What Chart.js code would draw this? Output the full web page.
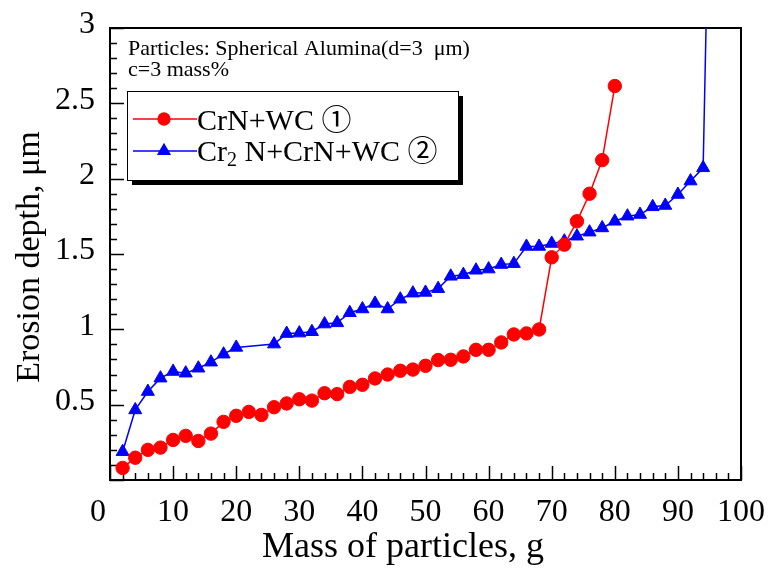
<!DOCTYPE html>
<html><head><meta charset="utf-8">
<script src="https://cdn.jsdelivr.net/npm/chart.js@4/dist/chart.umd.min.js"></script>
<style>html,body{margin:0;padding:0;background:#fff}#wrap{width:770px;height:569px;position:relative}</style>
</head><body><div id="wrap"><canvas id="c" width="770" height="569"></canvas></div>
<script>
// ---- data ----
const massCrN = [2,4,6,8,10,12,14,16,18,20,22,24,26,28,30,32,34,36,38,40,42,44,46,48,50,52,54,56,58,60,62,64,66,68,70,72,74,76,78,80];
const depthCrN = [0.08,0.148,0.20,0.215,0.266,0.293,0.259,0.308,0.386,0.426,0.452,0.432,0.483,0.508,0.536,0.527,0.576,0.57,0.618,0.632,0.674,0.70,0.725,0.733,0.758,0.796,0.798,0.82,0.864,0.864,0.913,0.966,0.973,0.999,1.478,1.562,1.717,1.90,2.123,2.615];
const massCr2N = [2,4,6,8,10,12,14,16,18,20,26,28,30,32,34,36,38,40,42,44,46,48,50,52,54,56,58,60,62,64,66,68,70,72,74,76,78,80,82,84,86,88,90,92,94,95];
const depthCr2N = [0.188,0.465,0.587,0.676,0.72,0.709,0.742,0.782,0.835,0.88,0.902,0.972,0.975,0.984,1.035,1.043,1.11,1.135,1.172,1.135,1.20,1.24,1.245,1.27,1.352,1.363,1.392,1.40,1.43,1.436,1.55,1.55,1.57,1.585,1.618,1.645,1.673,1.717,1.751,1.762,1.813,1.822,1.895,1.984,2.072,4.1];
const xTickValues = [0,10,20,30,40,50,60,70,80,90,100];
const yTickValues = [0.5,1,1.5,2,2.5,3];
const seriesNames = ['CrN+WC ①', 'Cr2N+CrN+WC ②'];
const xTitle = 'Mass of particles, g';
const yTitle = 'Erosion depth, μm';
const noteLines = ['Particles: Spherical Alumina(d=3  μm)', 'c=3 mass%'];

const SERIF = '"Liberation Serif", "Times New Roman", "Noto Sans CJK JP", serif';

function toPoints(xs, ys){ return xs.map((x,i)=>({x:x, y:ys[i]})); }

const framePlugin = {
  id: 'frame',
  beforeDatasetsDraw(chart){
    const {ctx, chartArea:a, scales:{x, y}} = chart;
    ctx.save();
    ctx.strokeStyle = '#000';
    ctx.lineWidth = 1.5;
    ctx.beginPath();
    for (let v = 0; v <= 100.001; v += 2) {
      const px = Math.round(x.getPixelForValue(v)) + 0.5;
      const len = (Math.round(v) % 10 === 0) ? 14 : 7;
      ctx.moveTo(px, a.bottom); ctx.lineTo(px, a.bottom - len);
    }
    for (let i = 0; i <= 30; i++) {
      const v = i / 10;
      const py = Math.round(y.getPixelForValue(v)) + 0.5;
      const len = (i % 5 === 0) ? 14 : 7;
      ctx.moveTo(a.left, py); ctx.lineTo(a.left + len, py);
    }
    ctx.stroke();
    ctx.lineWidth = 2;
    ctx.strokeRect(a.left, a.top, a.right - a.left, a.bottom - a.top);
    ctx.restore();
  },
  afterDraw(chart){
    const {ctx, chartArea:a} = chart;
    ctx.save();
    ctx.fillStyle = '#000';
    // axis titles
    ctx.font = '36px ' + SERIF;
    ctx.textAlign = 'center';
    ctx.textBaseline = 'alphabetic';
    ctx.fillText(xTitle, 403, 557);
    ctx.save();
    ctx.font = '34px ' + SERIF;
    ctx.translate(30, (a.top + a.bottom) / 2 + 3);
    ctx.rotate(-Math.PI / 2);
    ctx.textBaseline = 'middle';
    ctx.fillText(yTitle, 0, 0);
    ctx.restore();
    // note text
    ctx.font = '22px ' + SERIF;
    ctx.textAlign = 'left';
    ctx.textBaseline = 'alphabetic';
    ctx.fillText(noteLines[0], 128, 55);
    ctx.fillText(noteLines[1], 128, 76);
    // legend box with shadow
    const bx = 127, by = 91, bw = 331, bh = 89;
    ctx.fillRect(bx + 5, by + 5, bw, bh);
    ctx.fillStyle = '#fff';
    ctx.fillRect(bx, by, bw, bh);
    ctx.strokeStyle = '#000';
    ctx.lineWidth = 1;
    ctx.strokeRect(bx + 0.5, by + 0.5, bw, bh);
    const rows = [119, 151];
    chart.data.datasets.forEach((ds, i) => {
      const yy = rows[i];
      ctx.strokeStyle = ds.borderColor;
      ctx.lineWidth = 1.5;
      ctx.beginPath(); ctx.moveTo(133, yy); ctx.lineTo(197, yy); ctx.stroke();
      ctx.fillStyle = ds.pointBackgroundColor;
      ctx.strokeStyle = ds.pointBorderColor;
      Chart.helpers.drawPoint(ctx, {pointStyle: ds.pointStyle, radius: ds.pointRadius - 0.8, rotation: 0, borderWidth: 1}, 164, yy);
    });
    ctx.fillStyle = '#000';
    ctx.font = '30px ' + SERIF;
    ctx.fillText(seriesNames[0], 197, 129.5);
    // second name with subscript 2
    const name2 = seriesNames[1];
    const head = name2.slice(0, 2), sub = name2.slice(2, 3), tail = name2.slice(3);
    let tx = 197;
    ctx.fillText(head, tx, 160.5); tx += ctx.measureText(head).width;
    ctx.font = '20px ' + SERIF;
    ctx.fillText(sub, tx, 166); tx += ctx.measureText(sub).width;
    ctx.font = '30px ' + SERIF;
    tx += ctx.measureText(' ').width;
    ctx.fillText(tail, tx, 160.5);
    ctx.restore();
  }
};

new Chart(document.getElementById('c'), {
  type: 'line',
  data: {
    datasets: [
      { label: seriesNames[0], data: toPoints(massCrN, depthCrN),
        borderColor: '#ff0000', backgroundColor: '#ff0000',
        pointBackgroundColor: '#ff0000', pointBorderColor: '#ff0000',
        pointStyle: 'circle', pointRadius: 6.7, pointBorderWidth: 1, borderWidth: 1.5, tension: 0 },
      { label: seriesNames[1], data: toPoints(massCr2N, depthCr2N),
        borderColor: '#0000ff', backgroundColor: '#0000ff',
        pointBackgroundColor: '#0000ff', pointBorderColor: '#0000ff',
        pointStyle: 'triangle', pointRadius: 7.5, pointBorderWidth: 1, borderWidth: 1.5, tension: 0 }
    ]
  },
  options: {
    responsive: false,
    animation: false,
    devicePixelRatio: 1,
    layout: { padding: { top: 28, right: 29, left: 0, bottom: 0 } },
    plugins: { legend: { display: false }, tooltip: { enabled: false }, title: { display: false } },
    scales: {
      x: {
        type: 'linear', min: 0, max: 100,
        afterBuildTicks: s => { s.ticks = xTickValues.map(v => ({value: v})); },
        afterFit: s => { s.height = 89; },
        grid: { display: false }, border: { display: false },
        ticks: { color: '#000', padding: 5, maxRotation: 0, autoSkip: false,
          font: { family: SERIF, size: 32 },
          callback: v => v === 0 ? '0   ' : String(v) }
      },
      y: {
        type: 'linear', min: 0, max: 3,
        afterBuildTicks: s => { s.ticks = yTickValues.map(v => ({value: v})); },
        afterFit: s => { s.width = 110; },
        grid: { display: false }, border: { display: false },
        ticks: { color: '#000', padding: 7, labelOffset: -3, autoSkip: false,
          font: { family: SERIF, size: 32 },
          callback: v => String(v) }
      }
    }
  },
  plugins: [framePlugin]
});
</script>
</body></html>
